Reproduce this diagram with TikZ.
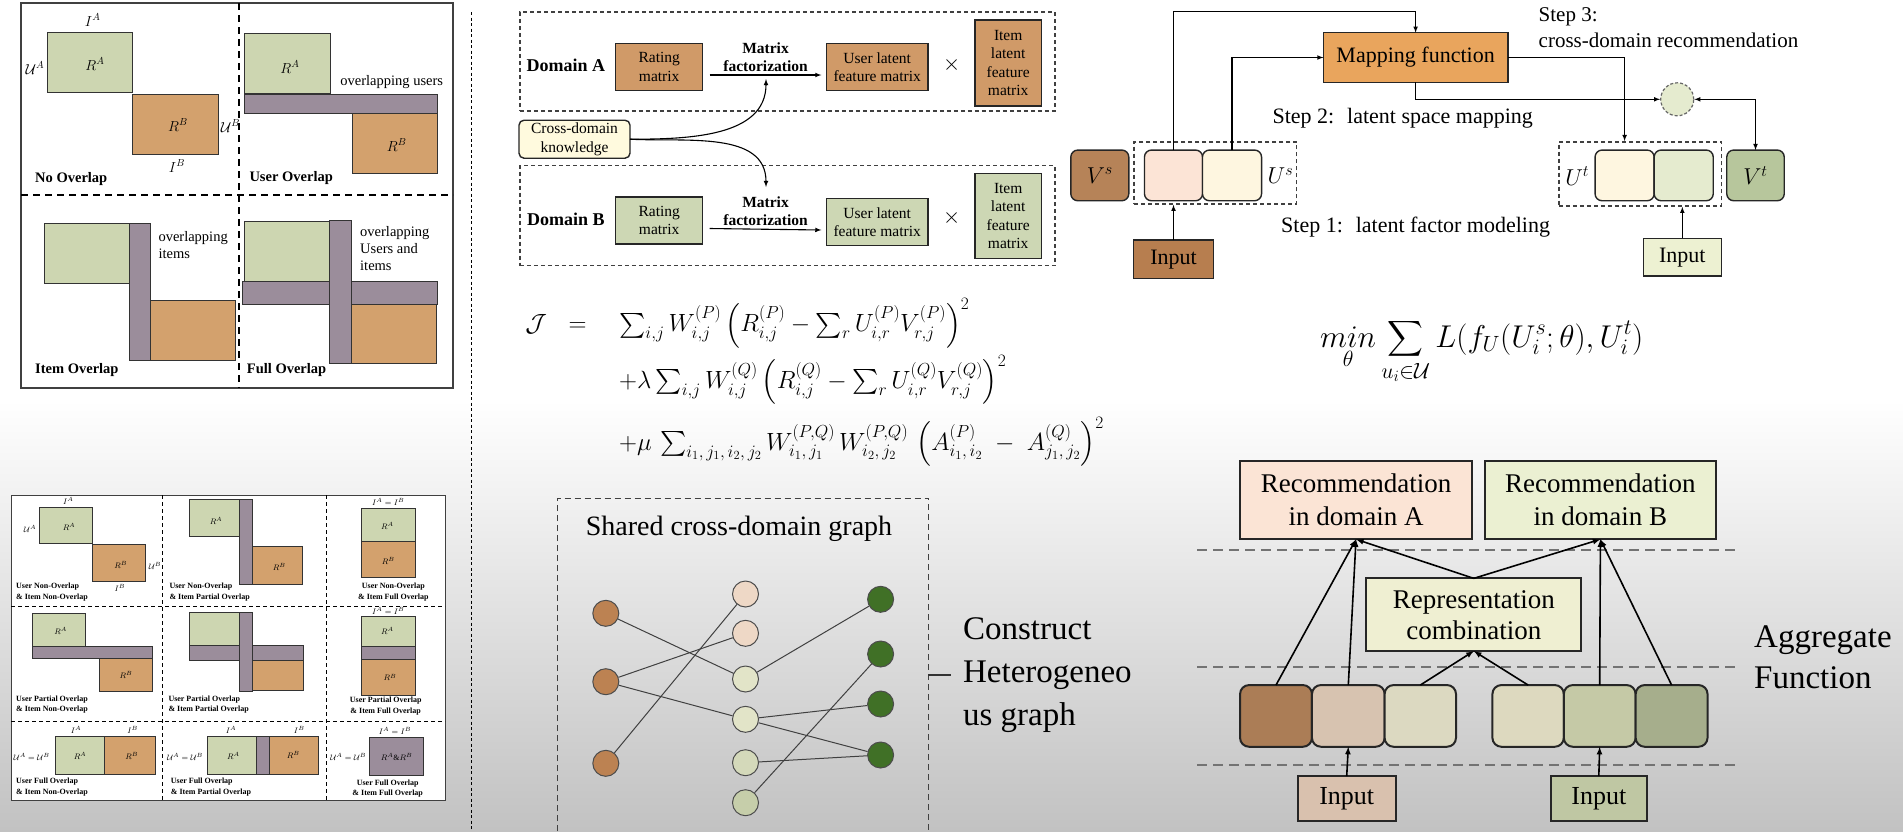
\RequirePackage{fix-cm}
\documentclass[tikz,border=0pt]{standalone}
\usepackage{amsmath}
\usepackage{fontspec}
\setmainfont{Liberation Serif}
\usetikzlibrary{positioning}

% colours
\definecolor{matgreen}{RGB}{205,214,177}
\definecolor{matorange}{RGB}{211,161,109}
\definecolor{matpurple}{RGB}{155,141,155}
\definecolor{domorange}{RGB}{208,154,104}
\definecolor{domgreen}{RGB}{205,215,180}
\definecolor{knowyellow}{RGB}{255,250,222}
\definecolor{mapfill}{RGB}{233,165,93}
\definecolor{vsfill}{RGB}{182,131,88}
\definecolor{peach}{RGB}{252,228,214}
\definecolor{cream}{RGB}{254,246,224}
\definecolor{palegreen}{RGB}{229,235,207}
\definecolor{vtfill}{RGB}{183,198,156}
\definecolor{inbrown}{RGB}{183,126,79}
\definecolor{inpale}{RGB}{237,241,210}
\definecolor{gbrown}{RGB}{188,130,82}
\definecolor{gpeach}{RGB}{238,216,198}
\definecolor{gpale}{RGB}{226,228,200}
\definecolor{gsage}{RGB}{212,217,186}
\definecolor{gsagedk}{RGB}{198,206,170}
\definecolor{gdark}{RGB}{64,112,38}
\definecolor{recpeach}{RGB}{251,228,213}
\definecolor{recpale}{RGB}{235,240,210}
\definecolor{combfill}{RGB}{239,239,210}
\definecolor{cbrown}{RGB}{171,125,86}
\definecolor{ctan}{RGB}{215,195,176}
\definecolor{cbeige}{RGB}{220,217,193}
\definecolor{cbeige2}{RGB}{221,217,191}
\definecolor{colive}{RGB}{197,201,166}
\definecolor{colivedk}{RGB}{166,174,140}
\definecolor{intan}{RGB}{217,193,174}
\definecolor{inolive}{RGB}{191,199,163}

\newcommand{\fsz}[2]{\fontsize{#1}{#2}\selectfont}

\tikzset{
  mat/.style={draw=black!80, line width=1pt},
  tinymat/.style={draw=black!80, line width=0.8pt},
  lbl/.style={inner sep=0pt},
  blk/.style={draw=black!85, line width=1.4pt, inner sep=0pt, outer sep=0pt, align=center},
  rbox/.style={blk, rounded corners=7pt},
  dbox/.style={draw=black!75, line width=1.2pt, dash pattern=on 4pt off 3pt, inner sep=0pt},
  arr/.style={-latex, line width=1.1pt},
  thickarr/.style={-latex, line width=1.6pt},
  gnode/.style={circle, draw=black!70, line width=1pt, minimum size=26pt, inner sep=0pt},
  gedge/.style={draw=black!75, line width=1pt},
  layerline/.style={draw=black!55, line width=1.8pt, dash pattern=on 10pt off 6pt},
  griddash/.style={line width=0.8pt, dash pattern=on 4pt off 3pt}
}

\begin{document}
\begin{tikzpicture}[x=1pt, y=-1pt]
\useasboundingbox (0,0) rectangle (1903,831);
\fill[white] (0,0) rectangle (1903,831);
\shade[top color=white, bottom color=black!24] (0,400) rectangle (1903,831);

% overlap cases
\begin{scope}[font=\fsz{14.5}{17}]
\draw[line width=1.8pt, black!75] (21,3) rectangle (453,388);
\draw[line width=1.5pt, dash pattern=on 7pt off 5pt] (239,3) -- (239,388);
\draw[line width=1.5pt, dash pattern=on 7pt off 5pt] (21,195) -- (453,195);
\filldraw[mat, fill=matgreen] (47.3,32.7) rectangle (132.7,92.7);
\filldraw[mat, fill=matorange] (132.7,94.3) rectangle (218.3,154.3);
\node[lbl] (iA) at (92.7,20) {$I^A$};
\node[lbl] (uA) at (35,68) {$\mathcal{U}^A$};
\node[lbl] (rA) at (95,64) {$R^A$};
\node[lbl] (rB) at (178,125) {$R^B$};
\node[lbl] (uB) at (230.5,126) {$\mathcal{U}^B$};
\node[lbl] (iB) at (177,166) {$I^B$};
\node[lbl, anchor=west] (noOv) at (35,179) {\bfseries No Overlap};
\filldraw[mat, fill=matgreen] (244.3,33.3) rectangle (330,93.3);
\filldraw[mat, fill=matpurple] (244.3,94.3) rectangle (437.3,113.3);
\filldraw[mat, fill=matorange] (352.3,113.3) rectangle (437.3,173.3);
\node[lbl] (rA2) at (290,67) {$R^A$};
\node[lbl] (rB2) at (396.7,145) {$R^B$};
\node[lbl] (ovUsers) at (391.7,82) {overlapping users};
\node[lbl, anchor=west] (userOv) at (249.3,178.3) {\bfseries User Overlap};
\filldraw[mat, fill=matgreen] (44,223.3) rectangle (129.3,283.3);
\filldraw[mat, fill=matpurple] (129.3,223.3) rectangle (150.7,360);
\filldraw[mat, fill=matorange] (150.7,300) rectangle (235.7,360);
\node[lbl, anchor=west, align=left] (ovItems) at (158.3,245) {overlapping\\items};
\node[lbl, anchor=west] (itemOv) at (35,370) {\bfseries Item Overlap};
\filldraw[mat, fill=matgreen] (244.3,221.7) rectangle (329,281.7);
\filldraw[mat, fill=matpurple] (242.7,281.7) rectangle (437.3,304);
\filldraw[mat, fill=matpurple] (329,220.7) rectangle (351.7,363.3);
\filldraw[mat, fill=matorange] (351.7,304) rectangle (436.7,363.3);
\node[lbl, anchor=west, align=left] (ovBoth) at (360,248.5) {overlapping\\Users and\\items};
\node[lbl, anchor=west] (fullOv) at (246.7,370) {\bfseries Full Overlap};
\end{scope}

\draw[line width=1pt, dash pattern=on 3pt off 2.5pt] (471,12) -- (471,831);

% nine overlap cases
\begin{scope}[font=\fsz{8}{10.5}]
\filldraw[draw=black!75, fill=white, line width=1pt] (11,495) rectangle (445,800.7);
\draw[griddash] (162.3,495) -- (162.3,800.7);
\draw[griddash] (326.7,495) -- (326.7,800.7);
\draw[griddash] (11,606) -- (445,606);
\draw[griddash] (11,721.3) -- (445,721.3);
\filldraw[tinymat, fill=matgreen] (39,507.3) rectangle (92.7,543.3);
\filldraw[tinymat, fill=matorange] (92.7,544.3) rectangle (145.7,581.7);
\node[lbl] (g1iA) at (68.3,501) {$I^A$};
\node[lbl] (g1uA) at (30,529.3) {$\mathcal{U}^A$};
\node[lbl] (g1rA) at (69,526.7) {$R^A$};
\node[lbl] (g1rB) at (120.7,565) {$R^B$};
\node[lbl] (g1uB) at (155,566) {$\mathcal{U}^B$};
\node[lbl] (g1iB) at (120,588.3) {$I^B$};
\node[lbl, anchor=west, align=left] (g1txt) at (16,592) {\bfseries User Non-Overlap\\\bfseries \& Item Non-Overlap};
\filldraw[tinymat, fill=matgreen] (189.3,499.3) rectangle (239.3,536.7);
\filldraw[tinymat, fill=matpurple] (239.3,499.3) rectangle (252.3,584.3);
\filldraw[tinymat, fill=matorange] (252.3,546.7) rectangle (302.3,584.3);
\node[lbl] (g2rA) at (216,520.7) {$R^A$};
\node[lbl] (g2rB) at (279.3,567.3) {$R^B$};
\node[lbl, anchor=west, align=left] (g2txt) at (169.3,592) {\bfseries User Non-Overlap\\\bfseries \& Item Partial Overlap};
\filldraw[tinymat, fill=matgreen] (361,508.3) rectangle (415,541.7);
\filldraw[tinymat, fill=matorange] (361,541.7) rectangle (415,577.3);
\node[lbl] (g3iAB) at (388.3,502) {$I^A=I^B$};
\node[lbl] (g3rA) at (387.3,525.7) {$R^A$};
\node[lbl] (g3rB) at (388.3,560.7) {$R^B$};
\node[lbl, align=center] (g3txt) at (393.3,592) {\bfseries User Non-Overlap\\\bfseries \& Item Full Overlap};
\filldraw[tinymat, fill=matgreen] (32.3,613.3) rectangle (85.7,646.7);
\filldraw[tinymat, fill=matpurple] (32.3,646.7) rectangle (152.3,658.3);
\filldraw[tinymat, fill=matorange] (99,658.3) rectangle (152.3,691.7);
\node[lbl] (g4rA) at (60.7,631) {$R^A$};
\node[lbl] (g4rB) at (126,675) {$R^B$};
\node[lbl, anchor=west, align=left] (g4txt) at (16,704.5) {\bfseries User Partial Overlap\\\bfseries \& Item Non-Overlap};
\filldraw[tinymat, fill=matgreen] (189.3,612.7) rectangle (239.3,645);
\filldraw[tinymat, fill=matpurple] (189.3,645) rectangle (303.3,660);
\filldraw[tinymat, fill=matpurple] (239.3,612.7) rectangle (252.3,691.7);
\filldraw[tinymat, fill=matorange] (252.3,660) rectangle (303.3,690.7);
\node[lbl, anchor=west, align=left] (g5txt) at (168.3,704.5) {\bfseries User Partial Overlap\\\bfseries \& Item Partial Overlap};
\filldraw[tinymat, fill=matgreen] (361,616.7) rectangle (415,646.7);
\filldraw[tinymat, fill=matpurple] (361,646.7) rectangle (415,659.3);
\filldraw[tinymat, fill=matorange] (361,659.3) rectangle (415,695.7);
\node[lbl] (g6iAB) at (388.3,611) {$I^A=I^B$};
\node[lbl] (g6rA) at (387.3,631) {$R^A$};
\node[lbl] (g6rB) at (390,677.5) {$R^B$};
\node[lbl, align=center] (g6txt) at (385.7,706) {\bfseries User Partial Overlap\\\bfseries \& Item Full Overlap};
\filldraw[tinymat, fill=matgreen] (55,736.7) rectangle (104.3,774);
\filldraw[tinymat, fill=matorange] (104.3,736.7) rectangle (155,774);
\node[lbl] (g7iA) at (76,730) {$I^A$};
\node[lbl] (g7iB) at (132.7,730) {$I^B$};
\node[lbl] (g7uAB) at (31.7,756.7) {$\mathcal{U}^A=\mathcal{U}^B$};
\node[lbl] (g7rA) at (80,756) {$R^A$};
\node[lbl] (g7rB) at (131.7,756) {$R^B$};
\node[lbl, anchor=west, align=left] (g7txt) at (16,787) {\bfseries User Full Overlap\\\bfseries \& Item Non-Overlap};
\filldraw[tinymat, fill=matgreen] (207.3,736.7) rectangle (256.7,774);
\filldraw[tinymat, fill=matpurple] (256.7,736.7) rectangle (269.3,774);
\filldraw[tinymat, fill=matorange] (269.3,736.7) rectangle (318.3,774);
\node[lbl] (g8iA) at (231,730) {$I^A$};
\node[lbl] (g8iB) at (299.3,730) {$I^B$};
\node[lbl] (g8uAB) at (185,756.7) {$\mathcal{U}^A=\mathcal{U}^B$};
\node[lbl] (g8rA) at (233.3,756) {$R^A$};
\node[lbl] (g8rB) at (293.3,755) {$R^B$};
\node[lbl, anchor=west, align=left] (g8txt) at (170.7,787) {\bfseries User Full Overlap\\\bfseries \& Item Partial Overlap};
\filldraw[tinymat, fill=matpurple] (369.3,737.3) rectangle (423.3,775);
\node[lbl] (g9iAB) at (395,730.7) {$I^A=I^B$};
\node[lbl] (g9uAB) at (348.3,756.7) {$\mathcal{U}^A=\mathcal{U}^B$};
\node[lbl] (g9rAB) at (396.7,756.7) {$R^A\&R^B$};
\node[lbl, align=center] (g9txt) at (387.7,788.7) {\bfseries User Full Overlap\\\bfseries \& Item Full Overlap};
\end{scope}

% matrix factorization in two domains
\begin{scope}[font=\fsz{15.5}{18.5}]
\node[dbox, minimum width=535pt, minimum height=99pt] (domA) at (787.4,61.4) {};
\node[dbox, minimum width=535pt, minimum height=100pt] (domB) at (787.4,215.7) {};
\node[font=\bfseries\fsz{18}{21}] (labA) at (565.9,65.7) {Domain A};
\node[font=\bfseries\fsz{18}{21}] (labB) at (565.9,219) {Domain B};
\node[blk, fill=domorange, minimum width=87pt, minimum height=47pt] (ratA) at (659.2,67) {Rating\\matrix};
\node[blk, fill=domorange, minimum width=101.7pt, minimum height=47pt] (ulA) at (877.2,67) {User latent\\feature matrix};
\node[font=\fsz{22}{24}] (xA) at (951.6,65) {$\times$};
\node[blk, fill=domorange, minimum width=66.5pt, minimum height=86pt] (ilA) at (1008.2,63) {Item\\latent\\feature\\matrix};
\node[blk, fill=domgreen, minimum width=87pt, minimum height=47pt] (ratB) at (659.2,220.5) {Rating\\matrix};
\node[blk, fill=domgreen, minimum width=101.7pt, minimum height=47pt] (ulB) at (877.2,222) {User latent\\feature matrix};
\node[font=\fsz{22}{24}] (xB) at (951.6,218) {$\times$};
\node[blk, fill=domgreen, minimum width=66.5pt, minimum height=85pt] (ilB) at (1008.2,215.8) {Item\\latent\\feature\\matrix};
\draw[arr] ([xshift=7pt,yshift=-8pt]ratA.east) -- node[above=3pt, font=\bfseries\fsz{15.5}{17.7}, align=center, inner sep=0pt] (mfA) {Matrix\\factorization} ([xshift=-5pt,yshift=-8pt]ulA.west);
\draw[arr] ([xshift=7pt,yshift=-8pt]ratB.east) -- node[above=3pt, font=\bfseries\fsz{15.5}{17.7}, align=center, inner sep=0pt] (mfB) {Matrix\\factorization} ([xshift=-5pt,yshift=-8pt]ulB.west);
\node[rbox, rounded corners=5pt, fill=knowyellow, minimum width=111pt, minimum height=38pt] (cdk) at (574.5,139.2) {Cross-domain\\knowledge};
\coordinate (upTip) at (766,79);
\coordinate (downTip) at (766,187);
\draw[arr] (cdk.east) to[out=0, in=-90] (upTip);
\draw[arr] (cdk.east) to[out=-3, in=90] (downTip);
\end{scope}

% objective
\begin{scope}[font=\fsz{24.9}{28}]
\node[anchor=base] (eqJ) at (536,331.7) {$\mathcal{J}$};
\node[anchor=base] (eqEq) at (577.5,331.7) {$=$};
\node[anchor=base west, inner sep=0pt] (eqL1) at (619,331.7) {$\sum_{i,j} W^{(P)}_{i,j}\left(R^{(P)}_{i,j}-\sum_r U^{(P)}_{i,r}V^{(P)}_{r,j}\right)^2$};
\node[anchor=base west, inner sep=0pt] (eqL2) at (619,388.3) {$+\lambda\sum_{i,j} W^{(Q)}_{i,j}\left(R^{(Q)}_{i,j}-\sum_r U^{(Q)}_{i,r}V^{(Q)}_{r,j}\right)^2$};
\node[anchor=base west, inner sep=0pt] (eqL3) at (619,450) {$+\mu\,\sum_{i_1,\,j_1,\,i_2,\,j_2} W^{(P,Q)}_{i_1,\,j_1}\,W^{(P,Q)}_{i_2,\,j_2}\,\left(A^{(P)}_{i_1,\,i_2}\;-\;A^{(Q)}_{j_1,\,j_2}\right)^2$};
\end{scope}

% mapping based transfer
\begin{scope}[font=\fsz{22}{26}]
\node[blk, fill=mapfill, minimum width=184.4pt, minimum height=49.6pt] (map) at (1415.6,57.5) {Mapping function};
\node[anchor=west, align=left, inner sep=0pt, font=\fsz{21}{25.7}] (step3) at (1538.5,27.8) {Step 3:\\cross-domain recommendation};
\node[rbox, fill=vsfill, minimum width=58pt, minimum height=50.7pt, font=\fsz{23}{26}] (vs) at (1099.8,175.4) {$V^s$};
\node[dbox, line width=1.5pt, minimum width=162.4pt, minimum height=62.3pt] (usbox) at (1215.4,172.9) {};
\node[rbox, fill=peach, minimum width=58.1pt, minimum height=50.7pt] (us1) at (1173.5,175.4) {};
\node[rbox, fill=cream, minimum width=59.1pt, minimum height=50.7pt] (us2) at (1232,175.4) {};
\node[lbl, font=\fsz{23}{26}] (usLab) at (1280.5,176) {$U^s$};
\node[blk, fill=inbrown, minimum width=79.5pt, minimum height=38.3pt] (inA) at (1173.5,259.2) {Input};
\node[dbox, line width=1.5pt, minimum width=162.4pt, minimum height=64.3pt] (utbox) at (1640.1,173.9) {};
\node[rbox, fill=cream, minimum width=59.1pt, minimum height=50.7pt] (ut1) at (1624.6,175.4) {};
\node[rbox, fill=palegreen, minimum width=59.1pt, minimum height=50.7pt] (ut2) at (1683.7,175.4) {};
\node[lbl, font=\fsz{23}{26}] (utLab) at (1577.2,176) {$U^t$};
\node[rbox, fill=vtfill, minimum width=57.5pt, minimum height=50.7pt, font=\fsz{23}{26}] (vt) at (1755.5,175.4) {$V^t$};
\node[blk, fill=inpale, minimum width=78pt, minimum height=37.7pt] (inB) at (1682.3,257.2) {Input};
\node[circle, draw=black!60, fill=palegreen, line width=1.2pt, dash pattern=on 3pt off 2pt, minimum size=33pt, inner sep=0pt] (mix) at (1677.2,99.3) {};
\node[lbl, anchor=west] (step2) at (1272.4,118.3) {Step 2:~ latent space mapping};
\node[lbl, anchor=west] (step1) at (1281,227.5) {Step 1:~ latent factor modeling};
\coordinate (ctop) at (1415.6,11.7);
\draw[arr] (us1.north) |- (ctop) -- (map.north);
\draw[arr] (us2.north) |- (map.west);
\draw[arr] (map.east) -| (ut1.north |- utbox.north);
\draw[arr] (map.south) |- (mix.west);
\draw[latex-latex, line width=1.1pt] (mix.east) -| (vt.north);
\draw[arr] (inA.north) -- (usbox.south -| inA.north);
\draw[arr] (inB.north) -- (utbox.south -| inB.north);
\end{scope}

% mapping objective
\node[anchor=base west, inner sep=0pt, font=\fsz{31.5}{36}] (minEq) at (1320,347) {$\displaystyle \mathop{min}\limits_{\theta}\sum_{u_i\in\mathcal{U}} L(f_U(U^s_i;\theta),U^t_i)$};

% shared graph
\draw[line width=1.3pt, black!75, dash pattern=on 6pt off 4pt] (557.2,831) -- (557.2,498.3) -- (928.4,498.3) -- (928.4,831);
\node[font=\fsz{28}{32}] (gTitle) at (739,528.3) {Shared cross-domain graph};
\node[gnode, fill=gbrown] (l1) at (605.8,613.3) {};
\node[gnode, fill=gbrown] (l2) at (605.8,681.7) {};
\node[gnode, fill=gbrown] (l3) at (605.8,763.3) {};
\node[gnode, fill=gpeach] (m1) at (745.5,594) {};
\node[gnode, fill=gpeach] (m2) at (745.5,633.3) {};
\node[gnode, fill=gpale] (m3) at (745.5,679) {};
\node[gnode, fill=gpale] (m4) at (745.5,719.3) {};
\node[gnode, fill=gsage] (m5) at (745.5,762.7) {};
\node[gnode, fill=gsagedk] (m6) at (745.5,802.7) {};
\node[gnode, fill=gdark] (r1) at (880.6,599.3) {};
\node[gnode, fill=gdark] (r2) at (880.6,654) {};
\node[gnode, fill=gdark] (r3) at (880.6,704) {};
\node[gnode, fill=gdark] (r4) at (880.6,755) {};
\draw[gedge] (l1) -- (m3);
\draw[gedge] (l2) -- (m2);
\draw[gedge] (l2) -- (m4);
\draw[gedge] (l3) -- (m1);
\draw[gedge] (m3) -- (r1);
\draw[gedge] (m4) -- (r3);
\draw[gedge] (m4) -- (r4);
\draw[gedge] (m5) -- (r4);
\draw[gedge] (m6) -- (r2);
\node[anchor=west, align=left, inner sep=0pt, font=\fsz{33}{43}] (construct) at (962.9,675) {Construct\\Heterogeneo\\us graph};
\coordinate (tickL) at (928.4,675);
\draw[line width=1.3pt, black!80] (tickL) -- ([xshift=-12pt]construct.west);

% aggregation
\begin{scope}[font=\fsz{27}{33}]
\draw[layerline] (1197,550) -- (1738,550);
\draw[layerline] (1197,666.7) -- (1738,666.7);
\draw[layerline] (1197,765) -- (1738,765);
\node[blk, fill=recpeach, line width=2pt, minimum width=232pt, minimum height=78.6pt] (recA) at (1356,500) {Recommendation\\in domain A};
\node[blk, fill=recpale, line width=2pt, minimum width=231.4pt, minimum height=78.6pt] (recB) at (1600.4,500) {Recommendation\\in domain B};
\node[blk, fill=combfill, line width=2pt, minimum width=214.7pt, minimum height=72.7pt, font=\fsz{27}{31}] (repc) at (1473.8,614.7) {Representation\\combination};
\node[rbox, fill=cbrown, line width=2pt, rounded corners=9pt, minimum width=71.9pt, minimum height=61.7pt] (cA1) at (1276,715.9) {};
\node[rbox, fill=ctan, line width=2pt, rounded corners=9pt, minimum width=72.7pt, minimum height=61.7pt] (cA2) at (1348.3,715.9) {};
\node[rbox, fill=cbeige, line width=2pt, rounded corners=9pt, minimum width=71.4pt, minimum height=61.7pt] (cA3) at (1420.3,715.9) {};
\node[rbox, fill=cbeige2, line width=2pt, rounded corners=9pt, minimum width=71.4pt, minimum height=61.7pt] (cB1) at (1528.1,715.9) {};
\node[rbox, fill=colive, line width=2pt, rounded corners=9pt, minimum width=71.8pt, minimum height=61.7pt] (cB2) at (1599.7,715.9) {};
\node[rbox, fill=colivedk, line width=2pt, rounded corners=9pt, minimum width=71.9pt, minimum height=61.7pt] (cB3) at (1671.6,715.9) {};
\node[blk, fill=intan, line width=2pt, minimum width=97.7pt, minimum height=44.7pt, font=\fsz{26}{30}] (inC) at (1346.7,798.4) {Input};
\node[blk, fill=inolive, line width=2pt, minimum width=96.4pt, minimum height=44.7pt, font=\fsz{26}{30}] (inD) at (1598.8,798.4) {Input};
\draw[thickarr] (cA1.north) -- (recA.south);
\draw[thickarr] (cA2.north) -- (recA.south);
\draw[thickarr] (repc.north) -- (recA.south);
\draw[thickarr] (repc.north) -- (recB.south);
\draw[thickarr] (cB2.north) -- (recB.south);
\draw[thickarr] (cB3.north) -- (recB.south);
\draw[thickarr] (cA3.north) -- (repc.south);
\draw[thickarr] (cB1.north) -- (repc.south);
\draw[thickarr] (inC.north) -- (cA2.south);
\draw[thickarr] (inD.north) -- (cB2.south);
\end{scope}
\node[anchor=west, align=left, inner sep=0pt, font=\fsz{33}{41}] (aggr) at (1754,657) {Aggregate\\Function};
\end{tikzpicture}
\end{document}
